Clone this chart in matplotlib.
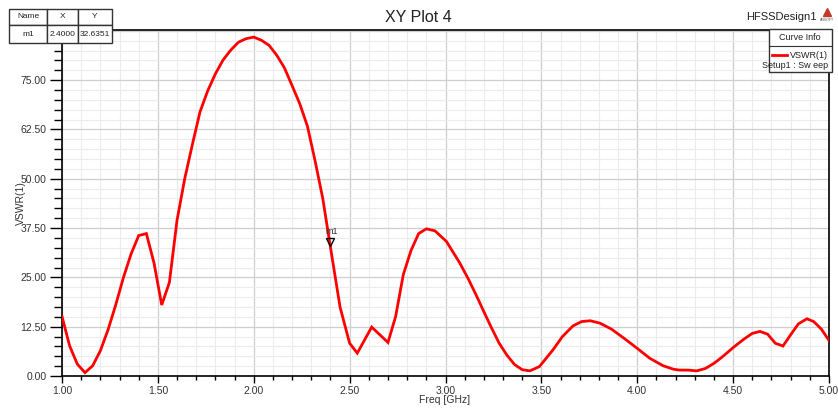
import matplotlib
matplotlib.use("Agg")
import matplotlib.pyplot as plt
from matplotlib.patches import Rectangle
from matplotlib.lines import Line2D
from matplotlib.ticker import MultipleLocator, FormatStrFormatter
import matplotlib.transforms as mtransforms

plt.rcParams['font.family'] = ['Liberation Sans', 'DejaVu Sans']

freq = [1.00, 1.04, 1.08, 1.12, 1.16, 1.20, 1.24, 1.28, 1.32, 1.36, 1.40, 1.44,
        1.48, 1.52, 1.56, 1.60, 1.64, 1.68, 1.72, 1.76, 1.80, 1.84, 1.88, 1.92,
        1.96, 2.00, 2.04, 2.08, 2.12, 2.16, 2.20, 2.24, 2.28, 2.32, 2.36, 2.40,
        2.45, 2.50, 2.54, 2.615, 2.70, 2.74, 2.78, 2.82, 2.86, 2.90, 2.945, 3.005,
        3.075, 3.12, 3.16, 3.20, 3.24, 3.28, 3.32, 3.36, 3.40, 3.44, 3.49, 3.56,
        3.61, 3.665, 3.71, 3.755, 3.805, 3.865, 3.93, 4.00, 4.065, 4.135, 4.19,
        4.22, 4.265, 4.31, 4.355, 4.40, 4.45, 4.50, 4.555, 4.60, 4.64, 4.68,
        4.72, 4.76, 4.805, 4.84, 4.885, 4.92, 4.96, 5.00]
vswr = [15.1, 7.6, 3.0, 0.85, 2.6, 6.4, 11.7, 18.0, 24.9, 30.9, 35.6, 36.1,
        28.6, 18.0, 23.7, 39.5, 50.0, 58.7, 67.0, 72.3, 76.6, 80.1, 82.6, 84.6,
        85.5, 85.9, 85.1, 83.8, 81.3, 78.1, 73.6, 69.0, 63.3, 54.5, 45.0, 32.64,
        17.5, 8.3, 5.8, 12.4, 8.5, 15.1, 25.7, 31.8, 36.1, 37.3, 36.8, 34.1,
        28.6, 24.5, 20.5, 16.3, 12.2, 8.3, 5.3, 2.9, 1.6, 1.3, 2.4, 6.6,
        10.0, 12.7, 13.8, 14.0, 13.4, 11.9, 9.6, 7.0, 4.5, 2.6, 1.7,
        1.5, 1.5, 1.3, 1.9, 3.2, 5.1, 7.2, 9.3, 10.8, 11.3, 10.6,
        8.3, 7.6, 10.8, 13.2, 14.5, 13.8, 11.9, 9.0]

marker_name = "m1"
marker_x = 2.4
marker_y = 32.6351

fig = plt.figure(figsize=(8.38, 4.12), dpi=100)
W, H = 838, 412
ax = fig.add_axes([62 / W, 1 - 376 / H, (829 - 62) / W, (376 - 30) / H])

ax.plot(freq, vswr, color='#ff0000', lw=2.0, solid_joinstyle='miter', zorder=3)

ax.set_xlim(1.0, 5.0)
ax.set_ylim(0, 87.7)
ax.xaxis.set_major_locator(MultipleLocator(0.5))
ax.xaxis.set_minor_locator(MultipleLocator(0.1))
ax.yaxis.set_major_locator(MultipleLocator(12.5))
ax.yaxis.set_minor_locator(MultipleLocator(2.5))
ax.xaxis.set_major_formatter(FormatStrFormatter('%.2f'))
ax.yaxis.set_major_formatter(FormatStrFormatter('%.2f'))
ax.grid(which='major', color='#cfcfcf', lw=0.9, zorder=0)
ax.grid(which='minor', color='#ececec', lw=0.8, zorder=0)
ax.set_axisbelow(True)
for s in ax.spines.values():
    s.set_color('black')
    s.set_linewidth(1.2)
ax.tick_params(axis='both', which='major', direction='out', length=5, width=1,
               labelsize=7.5, labelcolor='#333333', pad=2)
ax.tick_params(axis='both', which='minor', direction='out', length=3, width=1)
ax.tick_params(axis='y', which='major', length=9)
ax.tick_params(axis='y', which='minor', length=6)

ax.set_xlabel('Freq [GHz]', fontsize=7.5, color='#333333', labelpad=1)
ax.xaxis.set_label_coords((445 - 62) / (829 - 62), -0.055)
ax.set_ylabel('VSWR(1)', fontsize=7.5, color='#333333')
ax.yaxis.set_label_coords(-0.047, 0.5)

# marker m1
off = mtransforms.offset_copy(ax.transData, fig=fig, x=0, y=3.5, units='points')
ax.plot([marker_x], [marker_y], marker='v', ms=5.5, mfc='none', mec='black',
        mew=1.0, transform=off, zorder=4)
ax.annotate(marker_name, (marker_x, marker_y), xytext=(1, 8), textcoords='offset points',
            fontsize=6.5, color='#333333', ha='center', va='bottom')

# title and header texts
fig.text(418 / W, 1 - 17 / H, 'XY Plot 4', fontsize=11.5, ha='center', va='center',
         color='#222222')
fig.text(781 / W, 1 - 17 / H, 'HFSSDesign1', fontsize=8, ha='center', va='center',
         color='#222222')
fig.lines.append(Line2D([827 / W], [1 - 12 / H], marker='^', ms=5.5, color='#c0392b',
                        transform=fig.transFigure))
fig.text(827 / W, 1 - 20 / H, 'ANSOFT', fontsize=2.5, ha='center', va='center',
         color='#555555')

# marker table
tx = [9, 47, 78, 112]
ty = [9, 25, 43]
for i in range(3):
    for j in range(2):
        fig.add_artist(Rectangle((tx[i] / W, 1 - ty[j + 1] / H),
                                 (tx[i + 1] - tx[i]) / W, (ty[j + 1] - ty[j]) / H,
                                 transform=fig.transFigure, fc='white', ec='#333333',
                                 lw=1.0, zorder=5))
heads = ['Name', 'X', 'Y']
vals = [marker_name, f'{marker_x:.4f}', f'{marker_y:.4f}']
for i in range(3):
    cx = (tx[i] + tx[i + 1]) / 2 / W
    fig.text(cx, 1 - 17 / H, heads[i], fontsize=6, ha='center', va='center',
             color='#222222', zorder=6)
    fig.text(cx, 1 - 34 / H, vals[i], fontsize=6, ha='center', va='center',
             color='#222222', zorder=6)

# curve info legend box
fig.add_artist(Rectangle((769 / W, 1 - 72 / H), 63 / W, 43 / H,
                         transform=fig.transFigure, fc='white', ec='#333333',
                         lw=1.0, zorder=5))
fig.add_artist(Line2D([769 / W, 832 / W], [1 - 46 / H, 1 - 46 / H],
                      transform=fig.transFigure, color='#333333', lw=0.8, zorder=6))
fig.text(800 / W, 1 - 37.5 / H, 'Curve Info', fontsize=6.5, ha='center', va='center',
         color='#222222', zorder=6)
fig.add_artist(Line2D([772 / W, 787 / W], [1 - 55 / H, 1 - 55 / H],
                      transform=fig.transFigure, color='#ff0000', lw=2.0, zorder=6))
fig.text(828 / W, 1 - 55 / H, 'VSWR(1)', fontsize=6.5, ha='right', va='center',
         color='#222222', zorder=6)
fig.text(828 / W, 1 - 66 / H, 'Setup1 : Sw eep', fontsize=6.5, ha='right', va='center',
         color='#222222', zorder=6)

fig.savefig('out.png', dpi=100)
